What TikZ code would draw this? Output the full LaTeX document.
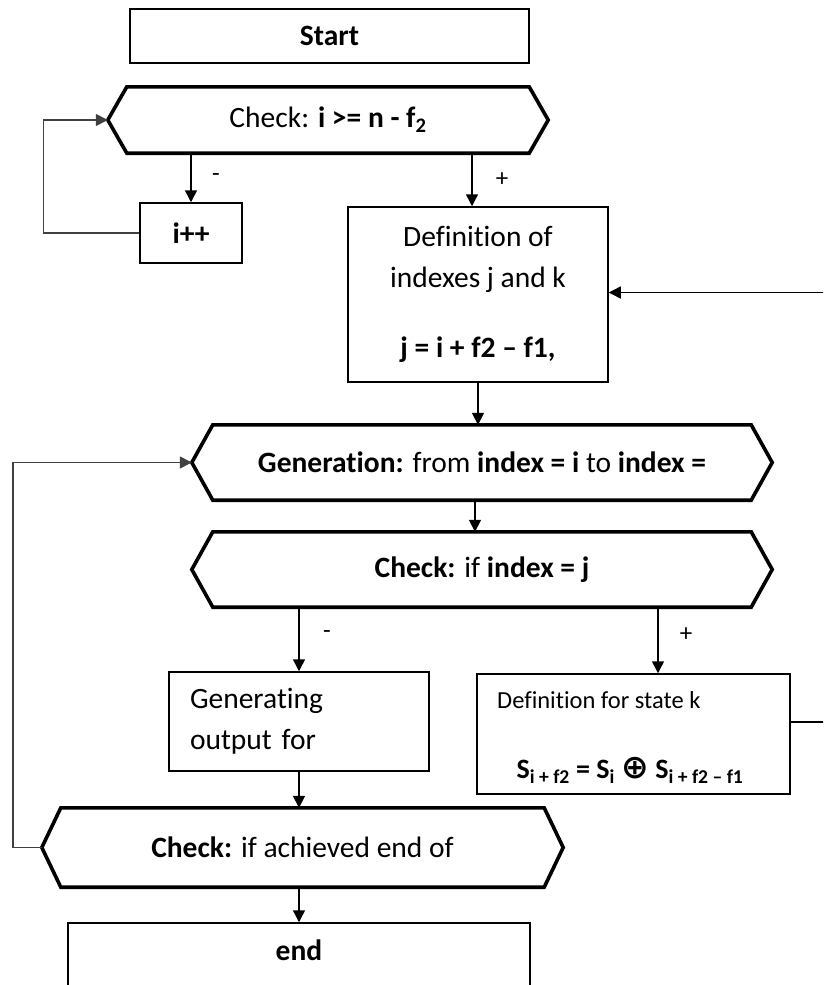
\documentclass[tikz,border=0pt]{standalone}
\usepackage{fontspec}
\setmainfont[Ligatures=NoCommon]{Carlito}
\newfontfamily\symfont{DejaVu Sans}
\usetikzlibrary{arrows.meta,calc}
\newcommand\hexframe[2]{\draw[hexline] (#1.west) -- ($(#1.north west)+(#2,0)$) -- ($(#1.north east)+(-#2,0)$) -- (#1.east) -- ($(#1.south east)+(-#2,0)$) -- ($(#1.south west)+(#2,0)$) -- cycle;}
\begin{document}
\begin{tikzpicture}[x=1pt,y=-1pt,
  box/.style={draw, line width=1.5pt, rectangle, inner sep=0pt},
  hexnode/.style={rectangle, inner sep=0pt},
  hexline/.style={line width=3.6pt, line join=miter},
  arr/.style={line width=1.5pt, -{Triangle[length=12pt,width=12pt]}},
  loopline/.style={line width=1.4pt, draw=black!75, -{Triangle[length=12pt,width=12pt]}},
  txt/.style={font=\fontsize{29.5}{41}\selectfont},
  lbl/.style={font=\fontsize{25}{28}\selectfont, inner sep=0pt},
]
\clip (0,0) rectangle (823,985);
\fill[white] (0,0) rectangle (823,985);
\node[box, minimum width=399pt, minimum height=54pt, txt] (start) at (329.5,36) {\textbf{Start}};
\node[hexnode, minimum width=440pt, minimum height=66pt, txt] (chk1) at (328,120) {Check: \textbf{i >= n - f\textsubscript{2}}};
\node[box, minimum width=102pt, minimum height=60pt, txt] (inc) at (191,233) {\textbf{i++}};
\node[box, minimum width=260pt, minimum height=175pt, txt, align=center] (defjk) at (478,294.5) {Definition of\\indexes j and k\\[29pt]\textbf{j = i + f2 – f1,}};
\node[hexnode, minimum width=580pt, minimum height=75pt, txt] (gen) at (482,462.5) {\textbf{Generation:} from \textbf{index = i} to \textbf{index =}};
\node[hexnode, minimum width=580pt, minimum height=75pt, txt] (chk2) at (482,569.5) {\textbf{Check:} if \textbf{index = j}};
\node[box, minimum width=260pt, minimum height=99pt, txt, text width=218pt, inner xsep=21pt, align=left] (genout) at (299,721.5) {Generating\\output for};
\node[box, minimum width=313pt, minimum height=120pt] (statek) at (633.5,734) {};
\node[anchor=west, inner sep=0pt, font=\fontsize{24.5}{27}\selectfont] (statekt) at (497,700) {Definition for state k};
\node[inner sep=0pt, font=\fontsize{28}{30}\selectfont\bfseries] (stateks) at (630,770) {S\textsubscript{i + f2} = S\textsubscript{i} {\symfont\fontsize{33}{30}\selectfont ⊕} S\textsubscript{i + f2 – f1}};
\node[hexnode, minimum width=521pt, minimum height=79pt, txt] (chk3) at (302.5,847.5) {\textbf{Check:} if achieved end of};
\node[box, minimum width=462pt, minimum height=100pt] (endbox) at (299,973) {};
\node[txt, inner sep=0pt] (endt) at (299,950) {\textbf{end}};
\node[lbl] (m1) at (216,178) {-};
\node[lbl] (p1) at (502,180) {+};
\node[lbl] (m2) at (327,635) {-};
\node[lbl] (p2) at (686,635) {+};
\hexframe{chk1}{19}
\hexframe{gen}{21}
\hexframe{chk2}{21}
\hexframe{chk3}{19}
\coordinate (defin) at ([xshift=-6pt]defjk.north);
\coordinate (kin) at ([xshift=24.5pt]statek.north);
\coordinate (kout) at ([yshift=12pt]statek.east);
\coordinate (genin) at ([xshift=-7pt]gen.south);
\draw[arr] (chk1.south -| inc.north) -- (inc.north);
\draw[loopline] (inc.west) -- ++(-96,0) |- (chk1.west);
\draw[arr] (chk1.south -| defin) -- (defin);
\draw[arr] (defjk.south) -- (defjk.south |- gen.north);
\draw[arr] (genin) -- (genin |- chk2.north);
\draw[arr] (chk2.south -| genout.north) -- (genout.north);
\draw[arr] (chk2.south -| kin) -- (kin);
\draw[arr] (genout.south) -- (genout.south |- chk3.north);
\draw[loopline] (chk3.west) -- ++(-29,0) |- (gen.west);
\draw[arr] (chk3.south -| endbox.north) -- (endbox.north);
\draw[arr] (kout) -- ++(60,0) |- ([yshift=2pt]defjk.east);
\end{tikzpicture}
\end{document}
